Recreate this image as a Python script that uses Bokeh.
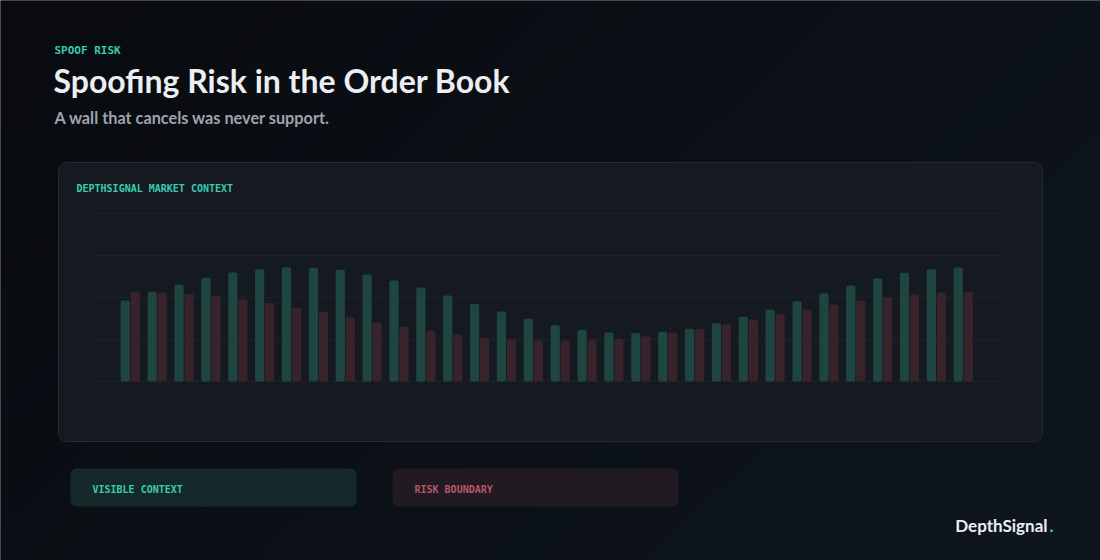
import numpy as np
from bokeh.plotting import figure
from bokeh.models import Range1d, Label, BoxAnnotation, ColumnDataSource
from bokeh.embed import file_html
from bokeh.resources import INLINE

# ---- data -------------------------------------------------------------
price_levels = list(range(1, 33))
visible_depth = [48.2, 53.4, 57.7, 61.7, 64.9, 66.8, 68.0, 67.7, 66.5, 63.7,
                 60.1, 56.0, 51.2, 46.2, 41.7, 37.3, 33.5, 30.8, 29.2, 28.8,
                 29.6, 31.4, 34.7, 38.5, 42.9, 47.8, 52.6, 57.1, 61.3, 64.7,
                 66.8, 67.9]
cancel_risk = [53.6, 53.0, 52.2, 51.0, 49.0, 46.8, 44.0, 41.3, 38.3, 35.3,
               32.7, 30.1, 28.0, 26.0, 25.0, 24.4, 24.2, 24.8, 25.4, 27.0,
               29.2, 31.4, 33.9, 36.9, 40.1, 42.9, 45.8, 48.2, 50.2, 51.8,
               53.0, 53.4]
grid_values = [0, 25, 50, 75, 100]

# ---- canvas -----------------------------------------------------------
W, H = 1100, 560


def Y(ypix):
    return H - ypix


p = figure(width=W, height=H, output_backend="svg", toolbar_location=None,
           x_range=Range1d(0, W), y_range=Range1d(0, H),
           x_axis_type=None, y_axis_type=None, min_border=0)
p.outline_line_color = None
p.grid.visible = False
p.background_fill_color = "#0b0e13"
p.border_fill_color = "#0b0e13"

# background gradient
gw, gh = 220, 112
xs = np.linspace(0, 1, gw)[None, :]
ys = np.linspace(1, 0, gh)[:, None]  # row 0 = bottom
t = np.clip((xs * 0.65 + ys * 0.35), 0, 1)
c0 = np.array([9, 11, 15])
c1 = np.array([15, 22, 31])
img = np.empty((gh, gw), dtype=np.uint32)
view = img.view(dtype=np.uint8).reshape((gh, gw, 4))
for k in range(3):
    view[:, :, k] = (c0[k] + (c1[k] - c0[k]) * t).astype(np.uint8)
view[:, :, 3] = 255
p.image_rgba(image=[img], x=-4, y=-4, dw=W + 8, dh=H + 8, level="image")

# card
p.add_layout(BoxAnnotation(left=58, right=1042, top=Y(162), bottom=Y(441),
                           fill_color="#151a21", fill_alpha=1.0,
                           line_color="#242a33", line_width=1, line_alpha=1.0,
                           border_radius=8, level="underlay"))

# legend-ish boxes
p.add_layout(BoxAnnotation(left=70, right=356, top=Y(468), bottom=Y(506),
                           fill_color="#15292a", fill_alpha=1.0,
                           line_color=None, border_radius=6, level="underlay"))
p.add_layout(BoxAnnotation(left=392, right=678, top=Y(468), bottom=Y(506),
                           fill_color="#221a23", fill_alpha=1.0,
                           line_color=None, border_radius=6, level="underlay"))

# ---- bar scales -------------------------------------------------------
UNIT = 26.87          # px per price level
FIRST = 129.8         # px of level 1
x0 = FIRST - UNIT * price_levels[0]
p.extra_x_ranges = {"lvl": Range1d(-x0 / UNIT, (W - x0) / UNIT)}
PPV = 1.68            # px per value unit
BASE = Y(381)
p.extra_y_ranges = {"val": Range1d(-BASE / PPV, (H - BASE) / PPV)}

p.segment(x0=95, x1=1002, y0=grid_values, y1=grid_values,
          y_range_name="val", line_color="#1d222a", line_width=1)

off = 5.0 / UNIT
bw = 9.2 / UNIT
src = ColumnDataSource(dict(
    xg=[l - off for l in price_levels],
    xr=[l + off for l in price_levels],
    vis=visible_depth, risk=cancel_risk))
p.vbar(x="xg", top="vis", bottom=0, width=bw, source=src,
       x_range_name="lvl", y_range_name="val",
       fill_color="#1f4541", line_color=None, border_radius=2)
p.vbar(x="xr", top="risk", bottom=0, width=bw, source=src,
       x_range_name="lvl", y_range_name="val",
       fill_color="#38232a", line_color=None, border_radius=2)

# ---- texts -------------------------------------------------------------
MONO = "DejaVu Sans Mono"
SANS = "Lato"
TEAL = "#38ccb1"


def lab(x, ybase, text, font, size, color, style="normal", align="left"):
    # empirical correction: rendered alphabetic baseline sits ~0.4em low
    p.add_layout(Label(x=x, y=Y(ybase - 0.4 * size), text=text, text_font=font,
                       text_font_size=f"{size}px", text_color=color,
                       text_font_style=style, text_align=align,
                       text_baseline="alphabetic"))


lab(54, 54, "SPOOF RISK", MONO, 11, TEAL, "bold")
lab(53, 93, "Spoofing Risk in the Order Book", SANS, 32, "#eceef2", "bold")
lab(54, 124, "A wall that cancels was never support.", SANS, 16.3, "#9ea4ad", "bold")
lab(76, 192, "DEPTHSIGNAL MARKET CONTEXT", MONO, 10, TEAL, "bold")
lab(92, 492.5, "VISIBLE CONTEXT", MONO, 10, TEAL, "bold")
lab(414, 492.5, "RISK BOUNDARY", MONO, 10, "#b7566b", "bold")
lab(1047, 532, "DepthSignal", SANS, 17, "#eceef2", "bold", "right")
lab(1049, 532, ".", SANS, 17, TEAL, "bold")

open("out.html", "w").write(file_html(p, INLINE))
